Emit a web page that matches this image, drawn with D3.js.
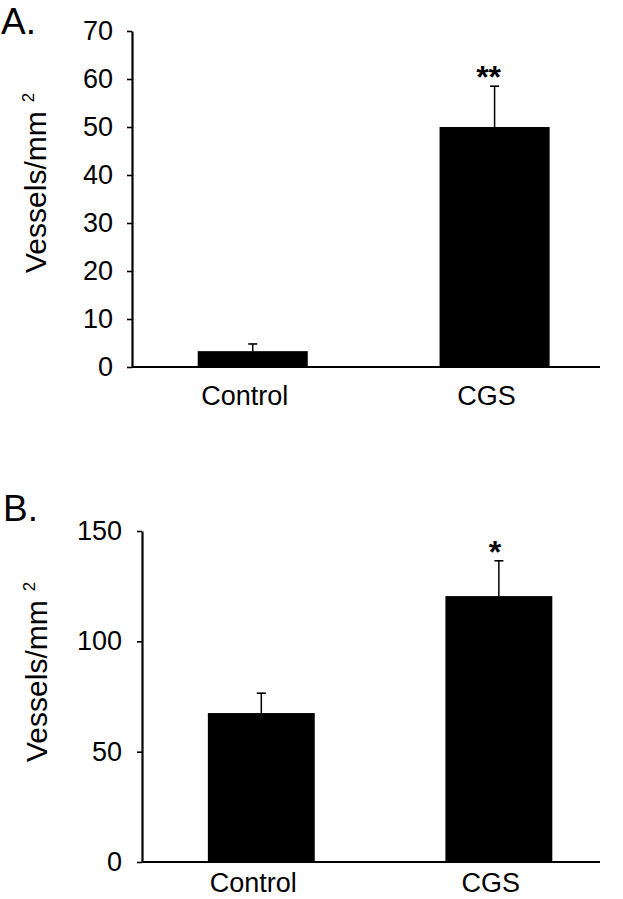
<!DOCTYPE html>
<html>
<head>
<meta charset="utf-8">
<script src="https://cdn.jsdelivr.net/npm/d3@7"></script>
<style>
  html, body { margin: 0; padding: 0; background: #fff; }
  svg { display: block; font-family: "Liberation Sans", Arial, Helvetica, sans-serif; }
</style>
</head>
<body>
<svg id="chart" width="623" height="899"></svg>
<script>
// ---- data ----
const categories = ["Control", "CGS"];
const valuesA = [3.3, 50];
const errorsA = [1.5, 8.5];
const starsA = ["", "**"];
const ticksA = [0, 10, 20, 30, 40, 50, 60, 70];

const valuesB = [67.5, 120.5];
const errorsB = [9, 16];
const starsB = ["", "*"];
const ticksB = [0, 50, 100, 150];

const svg = d3.select("#chart");

function panel(cfg) {
  const g = svg.append("g");
  const y = d3.scaleLinear().domain([0, cfg.max]).range([cfg.y0, cfg.y1]);
  const x = d3.scaleBand().domain(categories)
    .range([cfg.x0, cfg.x1])
    .paddingInner(cfg.pi).paddingOuter(cfg.po).align(cfg.align);

  // y axis
  const ax = g.append("g")
    .attr("transform", `translate(${cfg.x0},0)`)
    .call(d3.axisLeft(y).tickValues(cfg.ticks).tickSize(5).tickSizeOuter(0).tickPadding(cfg.tickPad).tickFormat(d3.format("d")));
  ax.select(".domain").attr("stroke", "#000").attr("stroke-width", 2.2);
  ax.selectAll(".tick line").attr("stroke", "#000").attr("stroke-width", 1.6);
  ax.selectAll(".tick text").attr("fill", "#000").attr("font-size", 27)
    .attr("font-family", "Liberation Sans, Arial, sans-serif");

  // bars
  g.selectAll("rect.bar").data(cfg.values).join("rect")
    .attr("class", "bar")
    .attr("x", (d, i) => x(categories[i]))
    .attr("width", x.bandwidth())
    .attr("y", d => y(d))
    .attr("height", d => y(0) - y(d))
    .attr("fill", "#000");

  // error bars
  const cx = i => x(categories[i]) + x.bandwidth() / 2;
  g.selectAll("line.err").data(cfg.values).join("line")
    .attr("class", "err")
    .attr("x1", (d, i) => cx(i)).attr("x2", (d, i) => cx(i))
    .attr("y1", d => y(d)).attr("y2", (d, i) => y(d + cfg.errors[i]))
    .attr("stroke", "#000").attr("stroke-width", 1.5);
  g.selectAll("line.cap").data(cfg.values).join("line")
    .attr("class", "cap")
    .attr("x1", (d, i) => cx(i) - 4.5).attr("x2", (d, i) => cx(i) + 4.5)
    .attr("y1", (d, i) => y(d + cfg.errors[i])).attr("y2", (d, i) => y(d + cfg.errors[i]))
    .attr("stroke", "#000").attr("stroke-width", 1.6);

  // significance stars
  g.selectAll("text.star").data(cfg.values).join("text")
    .attr("class", "star")
    .attr("x", (d, i) => cx(i) - cfg.starDx)
    .attr("y", (d, i) => y(d + cfg.errors[i]) + 2)
    .attr("text-anchor", "middle")
    .attr("font-size", 32).attr("font-weight", "bold")
    .text((d, i) => cfg.stars[i]);

  // baseline
  g.append("line")
    .attr("x1", cfg.x0).attr("x2", cfg.x1)
    .attr("y1", y(0)).attr("y2", y(0))
    .attr("stroke", "#000").attr("stroke-width", 2.2);

  // category labels
  g.selectAll("text.cat").data(categories).join("text")
    .attr("class", "cat")
    .attr("x", d => x(d) + x.bandwidth() / 2 - 8)
    .attr("y", cfg.catY)
    .attr("text-anchor", "middle")
    .attr("font-size", 27)
    .text(d => d);

  // y label
  const yl = g.append("text")
    .attr("transform", `translate(${cfg.ylX},${cfg.ylY}) rotate(-90)`)
    .attr("text-anchor", "start")
    .attr("font-size", 30);
  yl.append("tspan").text("Vessels/mm");
  yl.append("tspan").attr("font-size", 17).attr("dx", 9).attr("dy", -12).text("2");

  // panel letter
  g.append("text").attr("x", cfg.letterX).attr("y", cfg.letterY)
    .attr("font-size", 37).text(cfg.letter);
}

panel({
  values: valuesA, errors: errorsA, stars: starsA, ticks: ticksA, max: 70,
  y0: 367, y1: 31, x0: 132, x1: 600, pi: 0.545, po: 0.24, align: 0.566,
  tickPad: 14, catY: 405, ylX: 46, ylY: 273, letter: "A.", letterX: 1, letterY: 34,
  starDx: 6
});

panel({
  values: valuesB, errors: errorsB, stars: starsB, ticks: ticksB, max: 150,
  y0: 862, y1: 531, x0: 142, x1: 600, pi: 0.55, po: 0.239, align: 0.58,
  tickPad: 15, catY: 892, ylX: 47, ylY: 762, letter: "B.", letterX: 3, letterY: 521,
  starDx: 4
});
</script>
</body>
</html>
